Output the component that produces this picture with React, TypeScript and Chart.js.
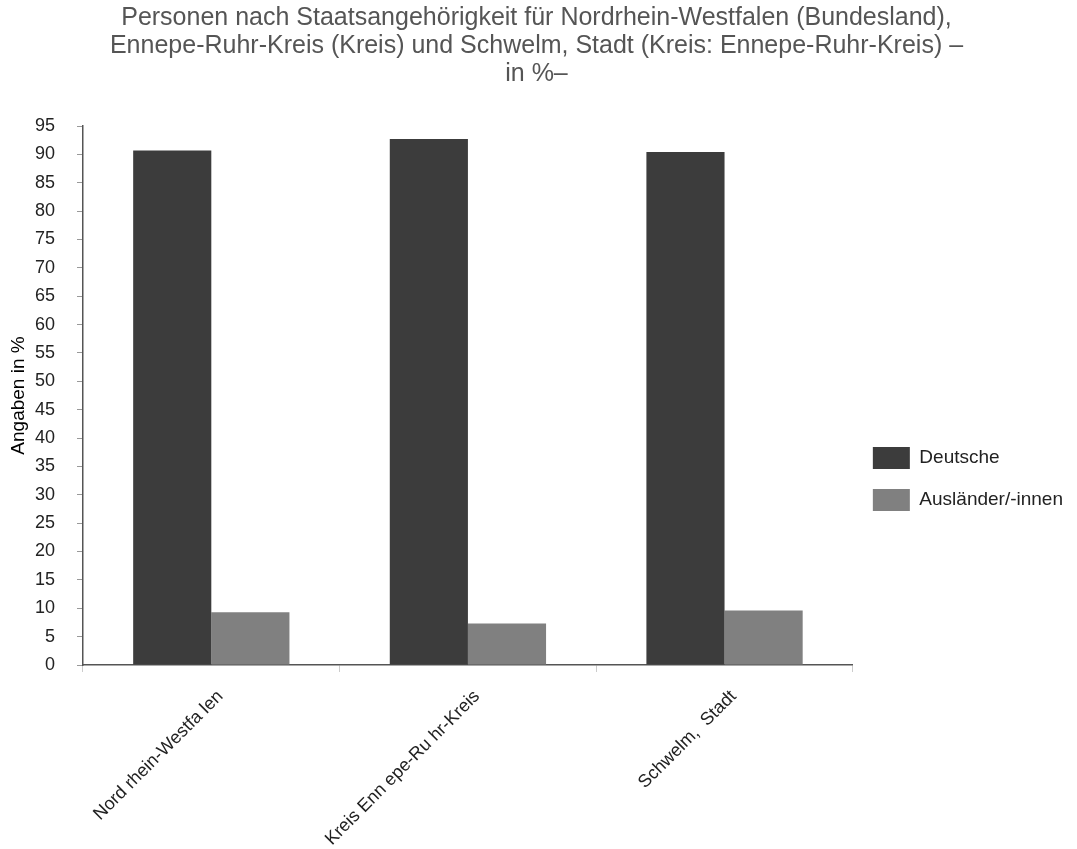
import React, { useEffect, useRef } from "react";
import { Chart, registerables } from "chart.js";

Chart.register(...registerables);

const titleLines = [
  "Personen nach Staatsangehörigkeit für Nordrhein-Westfalen (Bundesland),",
  "Ennepe-Ruhr-Kreis (Kreis) und Schwelm, Stadt (Kreis: Ennepe-Ruhr-Kreis) –",
  "in %–",
];
const categories = ["Nord rhein-Westfa len", "Kreis Enn epe-Ru hr-Kreis", "Schwelm,  Stadt"];
const deutsche = [90.7, 92.7, 90.4];
const auslaender = [9.3, 7.3, 9.6];
const seriesNames = ["Deutsche", "Ausländer/-innen"];
const yTitle = "Angaben in %";

const FONT = "'Liberation Sans', Arial, Helvetica, sans-serif";

export default function App() {
  const ref = useRef<HTMLCanvasElement | null>(null);
  useEffect(() => {
    if (!ref.current) return;
    const chart = new Chart(ref.current, {
      type: "bar",
      data: {
        labels: categories,
        datasets: [
          {
            label: seriesNames[0],
            data: deutsche,
            backgroundColor: "#3c3c3c",
            borderColor: "#3c3c3c",
            borderWidth: 0,
          },
          {
            label: seriesNames[1],
            data: auslaender,
            backgroundColor: "#808080",
            borderColor: "#808080",
            borderWidth: 0,
          },
        ],
      },
      options: {
        animation: false,
        responsive: true,
        maintainAspectRatio: false,
        layout: { padding: { left: 0, right: 4, bottom: 0, top: 0 } },
        datasets: { bar: { categoryPercentage: 0.609, barPercentage: 1.0 } },
        plugins: {
          tooltip: { enabled: false },
          title: {
            display: true,
            text: titleLines,
            color: "#555555",
            font: { family: FONT, size: 25, weight: "normal", lineHeight: 1.12 },
            padding: { top: 4, bottom: 38 },
          },
          legend: {
            position: "right",
            align: "start",
            title: {
              display: true,
              text: "",
              font: { family: FONT, size: 1, lineHeight: 1 },
              padding: { top: 426, bottom: 0 },
            },
            labels: {
              boxWidth: 37,
              boxHeight: 22,
              padding: 20,
              color: "#222222",
              font: { family: FONT, size: 19 },
            },
          },
        },
        scales: {
          x: {
            offset: true,
            afterFit: (scale: any) => {
              scale.height = 184;
            },
            grid: {
              display: true,
              offset: true,
              drawOnChartArea: false,
              drawTicks: true,
              tickLength: 7,
              color: "#cccccc",
            },
            border: { display: true, color: "#555555", width: 1.5 },
            ticks: {
              minRotation: 45,
              maxRotation: 45,
              labelOffset: 9,
              padding: 14,
              color: "#222222",
              font: { family: FONT, size: 18 },
            },
          },
          y: {
            min: 0,
            max: 95,
            afterFit: (scale: any) => {
              scale.width = 83;
            },
            ticks: {
              stepSize: 5,
              color: "#222222",
              padding: 22,
              font: { family: FONT, size: 18 },
            },
            grid: {
              display: true,
              drawOnChartArea: false,
              drawTicks: true,
              tickLength: 6,
              color: "#999999",
            },
            border: { display: true, color: "#555555", width: 1.5 },
            title: {
              display: true,
              text: yTitle,
              color: "#000000",
              font: { family: FONT, size: 19 },
              padding: { top: 7, bottom: 0 },
            },
          },
        },
      },
    });
    return () => chart.destroy();
  }, []);
  return (
    <div style={{ position: "absolute", left: 0, top: 0, width: 1077, height: 849, background: "#fff" }}>
      <canvas ref={ref} />
    </div>
  );
}
